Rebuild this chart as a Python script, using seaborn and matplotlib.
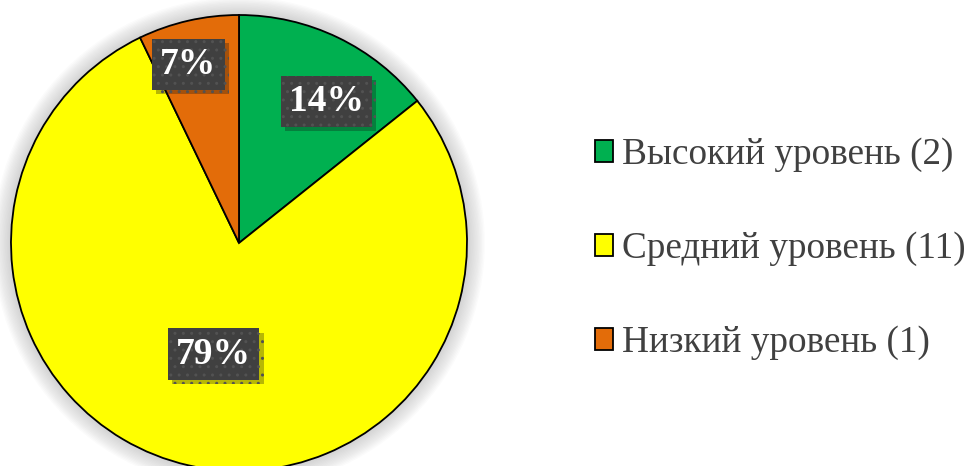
import matplotlib
matplotlib.use('Agg')
import numpy as np
import seaborn as sns
import matplotlib.pyplot as plt
import matplotlib.patheffects as pe
from matplotlib.patches import Circle

# данные
levels = ["Высокий уровень (2)", "Средний уровень (11)", "Низкий уровень (1)"]
counts = [2, 11, 1]
colors = ["#00B050", "#FFFF00", "#E36C09"]
label_dist = [0.73, 0.50, 0.815]   # где стоят подписи процентов
label_turn = [-6, 0, 3]            # сдвиг подписи по углу, градусы

sns.set_theme(style="white")
plt.rcParams['font.family'] = ['Liberation Serif', 'DejaVu Serif']

fig = plt.figure(figsize=(9.73, 4.66), dpi=100)
fig.patch.set_facecolor("white")

# оси под круг: центр (239, 243 сверху), радиус 228 px
lim = 1.1
R = 228
cx, cy = 239, 466 - 243
size = 2 * R * lim
ax = fig.add_axes([(cx - size / 2) / 973, (cy - size / 2) / 466, size / 973, size / 466])
ax.set_axis_off()

# мягкая тень вокруг круга
for k in range(1, 14):
    ax.add_patch(Circle((0, 0), 1.0 + k * 0.006, color="#7f7f7f", alpha=0.028, lw=0, zorder=0))

wedges, _ = ax.pie(counts, colors=colors, startangle=90, counterclock=False,
                   wedgeprops=dict(edgecolor="black", linewidth=1.3), radius=1.0)
for w in wedges:
    w.set_zorder(2)

total = sum(counts)
for w, c, d, dt in zip(wedges, counts, label_dist, label_turn):
    mid = np.deg2rad((w.theta1 + w.theta2) / 2 + dt)
    t = ax.text(d * np.cos(mid), d * np.sin(mid), "%d%%" % round(100 * c / total),
                ha="center", va="center", color="white", fontsize=27, fontweight="bold",
                zorder=5,
                bbox=dict(boxstyle="square,pad=0.22", facecolor="#404040",
                          edgecolor="#525252", linewidth=0, hatch=".."))
    t.get_bbox_patch().set_path_effects([pe.SimplePatchShadow(offset=(3, -3), alpha=0.3),
                                         pe.Normal()])

ax.set_xlim(-lim, lim)
ax.set_ylim(-lim, lim)
ax.set_aspect("equal")

leg = fig.legend(wedges, levels, loc="center left", bbox_to_anchor=(561 / 973, 0.4657),
                 frameon=False, fontsize=26.8, handlelength=0.51, handleheight=0.51,
                 handletextpad=0.22, labelspacing=1.6, labelcolor="#404040")
for h in leg.legend_handles:
    h.set_linewidth(1.3)
    h.set_edgecolor("black")

fig.savefig("out.png", dpi=100)
